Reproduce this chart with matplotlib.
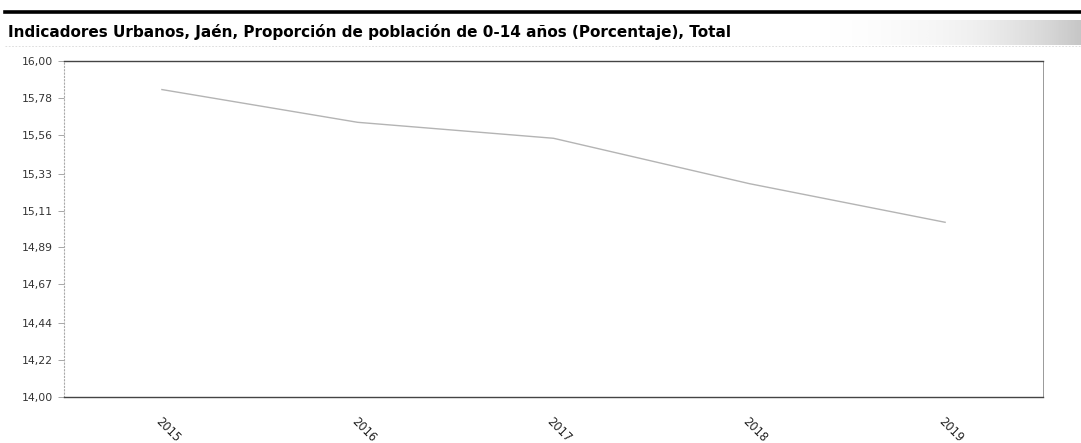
import matplotlib
matplotlib.use("Agg")
import matplotlib.pyplot as plt
import numpy as np
from matplotlib.lines import Line2D

years = ["2015", "2016", "2017", "2018", "2019"]
values = [15.83, 15.635, 15.54, 15.27, 15.04]
y_ticks = [14.00, 14.22, 14.44, 14.67, 14.89, 15.11, 15.33, 15.56, 15.78, 16.00]
title = "Indicadores Urbanos, Jaén, Proporción de población de 0-14 años (Porcentaje), Total"

plt.rcParams['font.family'] = ['DejaVu Sans']

W, H = 1081, 443
fig = plt.figure(figsize=(W / 100, H / 100), dpi=100)
fig.patch.set_facecolor('white')

# title-bar gradient on the right
gax = fig.add_axes([800 / W, 1 - 45 / H, (W - 800) / W, 25 / H])
grad = np.linspace(0, 1, 256) ** 2
gax.imshow(grad[None, :], aspect='auto', cmap='Greys', vmin=0, vmax=3.0,
           extent=(0, 1, 0, 1))
gax.axis('off')

# top thick rule
fig.add_artist(Line2D([5 / W, 1.0], [1 - 12 / H, 1 - 12 / H], color='black', lw=2.6))
fig.add_artist(Line2D([5 / W, 1.0], [1 - 46 / H, 1 - 46 / H], color='#d8d8d8', lw=0.6,
                      linestyle=(0, (2, 2))))

fig.text(8 / W, 1 - 32 / H, title, fontsize=11.0, fontweight='bold', color='black',
         ha='left', va='center')

ax = fig.add_axes([64 / W, 1 - 397 / H, (1043 - 64) / W, (397 - 61) / H])
x = np.arange(len(years))
ax.plot(x, values, color='#b4b4b4', lw=1.0)
ax.set_xlim(-0.5, len(years) - 0.5)
ax.set_ylim(14.0, 16.0)

ax.set_yticks(y_ticks)
ax.set_yticklabels([f"{v:.2f}".replace('.', ',') for v in y_ticks], fontsize=7.8, color='#333333')
ax.tick_params(axis='y', length=4, width=0.6, color='#999999', pad=4)

ax.set_xticks(x)
ax.set_xticklabels(years, fontsize=8.3, color='#222222', rotation=-45,
                   ha='left', va='top', rotation_mode='anchor')
ax.tick_params(axis='x', length=0, pad=13)

for side in ['top', 'bottom']:
    ax.spines[side].set_color('#444444')
    ax.spines[side].set_linewidth(1.0)
ax.spines['left'].set_color('#aaaaaa')
ax.spines['left'].set_linestyle((0, (1, 2)))
ax.spines['left'].set_linewidth(0.8)
ax.spines['right'].set_color('#999999')
ax.spines['right'].set_linewidth(0.7)

fig.savefig('out.png', dpi=100)
